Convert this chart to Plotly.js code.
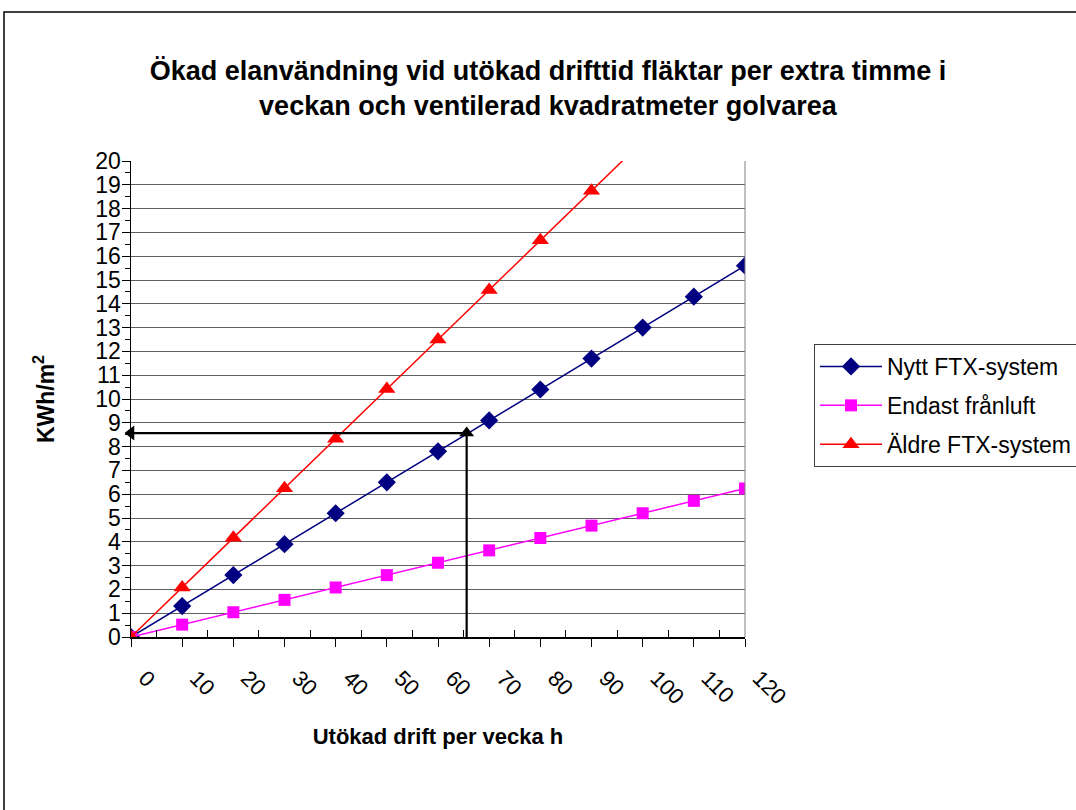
<!DOCTYPE html>
<html>
<head>
<meta charset="utf-8">
<script src="https://cdn.plot.ly/plotly-3.0.1.min.js"></script>
<style>
  html, body { margin: 0; padding: 0; background: #ffffff; }
  #chart { width: 1076px; height: 810px; }
</style>
</head>
<body>
<div id="chart"></div>
<script>
// ---- Data ----
const hours = [0, 10, 20, 30, 40, 50, 60, 70, 80, 90, 100, 110, 120];
const nyttFTX = [0, 1.3, 2.6, 3.9, 5.2, 6.5, 7.8, 9.1, 10.4, 11.7, 13.0, 14.3, 15.6];
const endastFranluft = [0, 0.52, 1.04, 1.56, 2.08, 2.6, 3.12, 3.64, 4.16, 4.68, 5.2, 5.72, 6.24];
const aldreFTX = [0, 2.08, 4.17, 6.25, 8.33, 10.42, 12.5, 14.58, 16.67, 18.75, 20.83];
const seriesNames = ["Nytt FTX-system", "Endast frånluft", "Äldre FTX-system"];
const xTickValues = [0, 10, 20, 30, 40, 50, 60, 70, 80, 90, 100, 110, 120];
const xTickLabels = ["0", "10", "20", "30", "40", "50", "60", "70", "80", "90", "100", "110", "120"];
// reading example marked with arrows: up from the x axis, then left to the y axis
const readX = 65.6;
const readY = 8.57;
const readPathX = [readX, readX, 0];
const readPathY = [0, readY, readY];

const FONT = "Liberation Sans, Arial, sans-serif";

const traces = [
  {
    x: hours, y: nyttFTX, name: seriesNames[0], type: "scatter", mode: "lines+markers",
    line: {color: "#000080", width: 1.5},
    marker: {symbol: "diamond", size: 14, color: "#000080"},
    legendgroup: "a"
  },
  {
    x: hours, y: endastFranluft, name: seriesNames[1], type: "scatter", mode: "lines+markers",
    line: {color: "#FF00FF", width: 1.5},
    marker: {symbol: "square", size: 12, color: "#FF00FF"},
    legendgroup: "b"
  },
  {
    x: hours.slice(0, aldreFTX.length), y: aldreFTX, name: seriesNames[2], type: "scatter", mode: "lines+markers",
    line: {color: "#FF0000", width: 1.5},
    marker: {symbol: "triangle-up", size: 15, color: "#FF0000"},
    legendgroup: "c"
  },
  {
    x: readPathX, y: readPathY, type: "scatter", mode: "lines+markers",
    line: {color: "#000000", width: 2.2},
    marker: {symbol: ["circle", "triangle-up", "triangle-left"], size: [0, 13, 13], color: "#000000", opacity: 1, line: {width: 0}},
    cliponaxis: false, showlegend: false, hoverinfo: "skip", legendgroup: "z"
  }
];

// plot area: x 131..745, y 161..637
const L = 131, R = 745, T = 161, B = 637, W = 1076, H = 810;
const px = v => (v - L) / (R - L);
const py = v => (B - v) / (B - T);

const layout = {
  width: W, height: H,
  margin: {l: L, r: W - R, t: T, b: H - B, pad: 0, autoexpand: false},
  paper_bgcolor: "#ffffff",
  plot_bgcolor: "#ffffff",
  font: {family: FONT, color: "#000000", size: 22},
  title: {
    text: "Ökad elanvändning vid utökad drifttid fläktar per extra timme i<br>veckan och ventilerad kvadratmeter golvarea",
    font: {family: FONT, size: 27, weight: "bold", color: "#000000"},
    x: 548 / W, xanchor: "center",
    y: 1 - 80 / H, yanchor: "middle", yref: "container"
  },
  xaxis: {
    range: [0, 120],
    tickmode: "array",
    tickvals: xTickValues,
    ticktext: xTickLabels,
    tickangle: 45,
    tickfont: {family: FONT, size: 22},
    ticks: "outside", ticklen: 8, tickcolor: "#000000", tickwidth: 1,
    ticklabelstandoff: 10,
    ticklabelshift: 14,
    minor: {tickvals: [5, 15, 25, 35, 45, 55, 65, 75, 85, 95, 105, 115], ticks: "inside", ticklen: 7, tickcolor: "#000000", showgrid: false},
    showgrid: false,
    zeroline: false,
    showline: true, linecolor: "#000000", linewidth: 1.5,
    title: {text: "Utökad drift per vecka h", font: {family: FONT, size: 22, weight: "bold"}, standoff: 20},
    fixedrange: true
  },
  yaxis: {
    range: [0, 20],
    dtick: 1,
    tick0: 0,
    tickfont: {family: FONT, size: 23},
    ticks: "outside", ticklen: 8, tickcolor: "#000000", tickwidth: 1,
    ticklabelstandoff: -4,
    minor: {dtick: 0.5, ticks: "outside", ticklen: 5, tickcolor: "#000000", showgrid: false},
    showgrid: true, gridcolor: "#606060", gridwidth: 1,
    zeroline: false,
    showline: true, linecolor: "#000000", linewidth: 1.5,
    title: {text: "KWh/m<sup>2</sup>", font: {family: FONT, size: 23, weight: "bold"}, standoff: 34},
    fixedrange: true
  },
  showlegend: true,
  legend: {
    x: px(814), y: py(344), xanchor: "left", yanchor: "top",
    bgcolor: "#ffffff",
    bordercolor: "#404040", borderwidth: 1,
    font: {family: FONT, size: 23, color: "#000000"},
    traceorder: "grouped",
    tracegroupgap: 6,
    itemwidth: 62
  },
  shapes: [
    // outer chart frame
    {type: "rect", xref: "paper", yref: "paper",
     x0: px(4), x1: px(1082), y0: py(816), y1: py(12),
     line: {color: "#000000", width: 1.5}, fillcolor: "rgba(0,0,0,0)", layer: "below"},
    // right edge of plot area
    {type: "line", xref: "paper", yref: "paper", x0: 1, x1: 1, y0: 0, y1: 1,
     line: {color: "#808080", width: 1}}
  ]
};

Plotly.newPlot("chart", traces, layout, {displayModeBar: false, staticPlot: true});
</script>
</body>
</html>
